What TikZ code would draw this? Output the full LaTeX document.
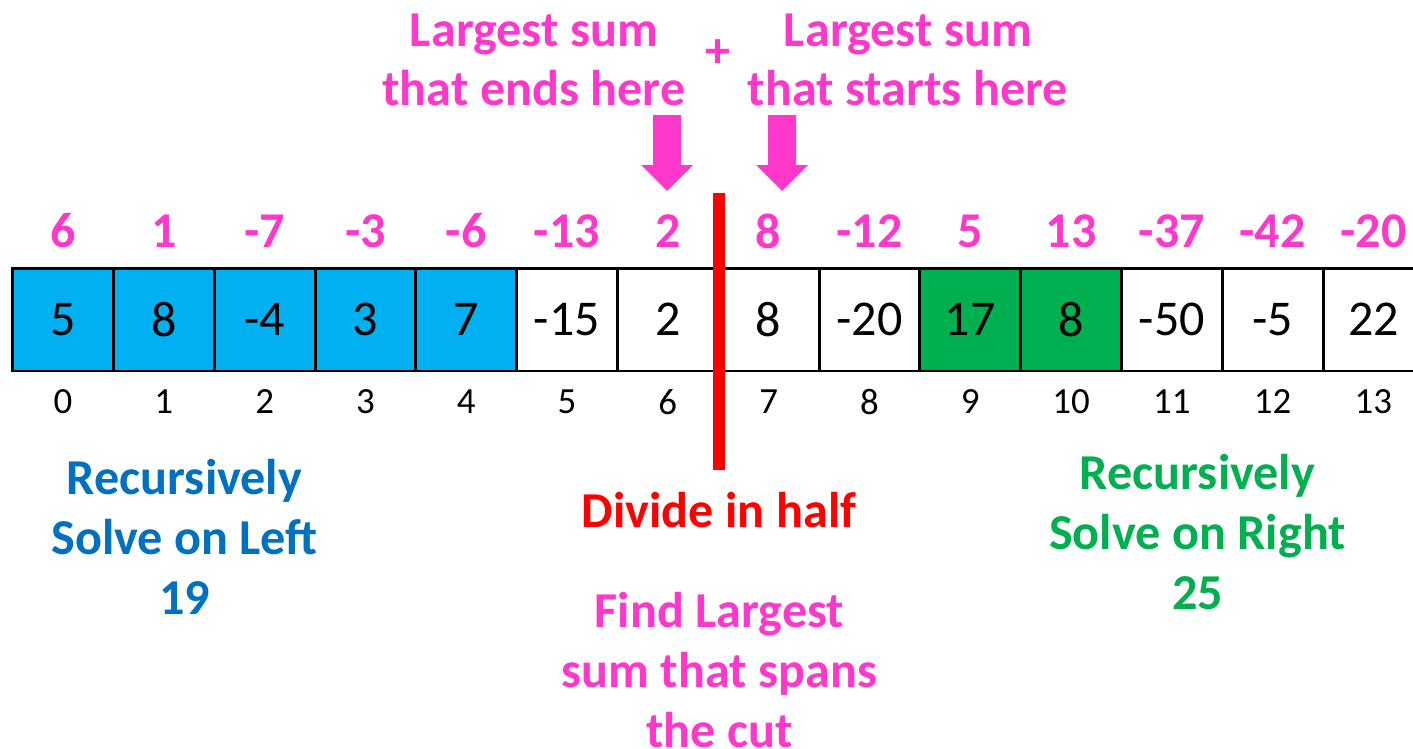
\documentclass[tikz,border=0pt]{standalone}
\usepackage{fontspec}
\setmainfont{Carlito}
\usepackage{xcolor}
\usepackage{tikz}
\usetikzlibrary{positioning,calc}
\definecolor{dcPink}{HTML}{FF38CC}
\definecolor{dcBlue}{HTML}{00B0F0}
\definecolor{dcBlueText}{HTML}{0070C0}
\definecolor{dcGreen}{HTML}{00B050}
\definecolor{dcRed}{HTML}{FF0000}

\begin{document}
\begin{tikzpicture}[
  x=0.02cm, y=-0.02cm,
  cell/.style={draw=black, line width=1.7pt, minimum width=2.016cm, minimum height=2.06cm,
               inner sep=0pt, font=\fontsize{28.5}{34}\selectfont},
  sumnum/.style={text=dcPink, font=\bfseries\fontsize{28.5}{34}\selectfont, inner sep=0pt},
  idx/.style={font=\fontsize{21}{25}\selectfont, inner sep=0pt},
  note/.style={align=center, font=\bfseries\fontsize{28.6}{34}\selectfont, inner sep=0pt},
  cutline/.style={draw=dcRed, line width=6.8pt},
]
\clip (0,0) rectangle (1413,748);

% Array cells, running sums above, indices below
\foreach \v/\c/\s [count=\i from 0] in {5/dcBlue/6, 8/dcBlue/1, -4/dcBlue/-7, 3/dcBlue/-3, 7/dcBlue/-6,
    -15/white/-13, 2/white/2, 8/white/8, -20/white/-12, 17/dcGreen/5, 8/dcGreen/13,
    -50/white/-37, -5/white/-42, 22/white/-20}{
  \node[cell, fill=\c] (c\i) at ({63+100.8*\i},319.5) {\v};
  \node[sumnum] (s\i) at ({63+100.8*\i},231) {\s};
  \node[idx] (i\i) at ({63+100.8*\i},402) {\i};
}

% Cut
\coordinate (cutT) at (719,193);
\coordinate (cutB) at (719,470);
\draw[cutline] (cutT) -- (cutB);

% Block arrows
\foreach \a in {667,782}{
  \fill[dcPink] (\a-14,115) -- (\a+14,115) -- (\a+14,165) -- (\a+26,165) -- (\a,191)
    -- (\a-26,165) -- (\a-14,165) -- cycle;
}

% Labels
\node[note, text=dcPink] (ends) at (534,60) {Largest sum\\that ends here};
\node[note, text=dcPink] (starts) at (908,60) {Largest sum\\that starts here};
\node[note, text=dcPink] (plus) at (718,54) {+};
\node[note, text=dcBlueText] (left) at (184.5,537) {Recursively\\Solve on Left\\19};
\node[note, text=dcGreen] (right) at (1197.5,532) {Recursively\\Solve on Right\\25};
\node[note, text=dcRed] (half) at (719,510) {Divide in half};
\node[note, text=dcPink] (span) at (719.5,670) {Find Largest\\sum that spans\\the cut};

\end{tikzpicture}
\end{document}
